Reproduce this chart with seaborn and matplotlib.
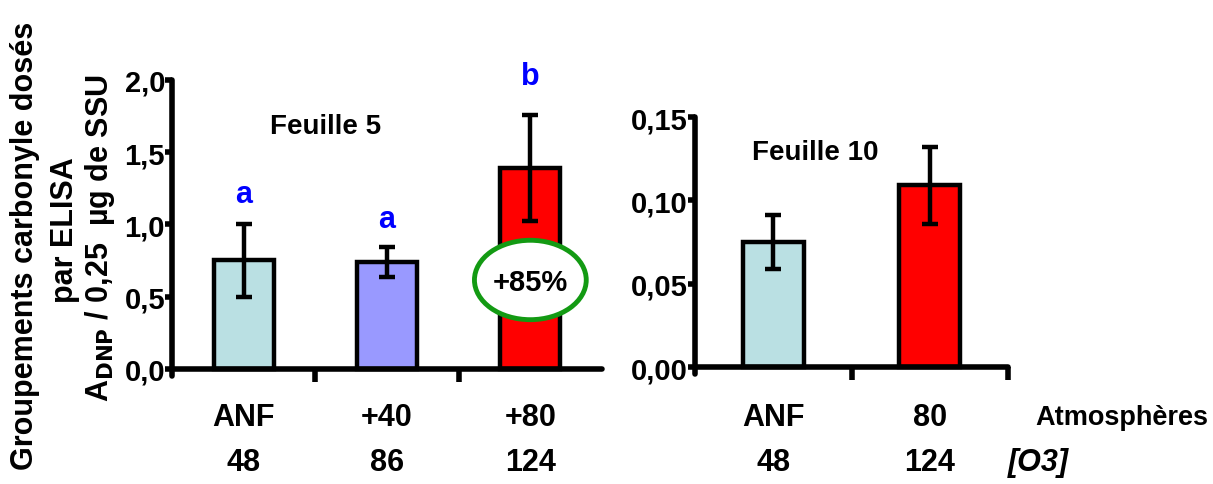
import matplotlib
matplotlib.use("Agg")
import matplotlib.pyplot as plt
from matplotlib.patches import Ellipse
import seaborn as sns
import pandas as pd

# ---- data ----
cats_f5 = ["ANF", "+40", "+80"]
o3_f5 = ["48", "86", "124"]
vals_f5 = [0.75, 0.74, 1.39]
errs_f5 = [0.25, 0.105, 0.37]
letters_f5 = ["a", "a", "b"]
colors_f5 = ["#BAE0E3", "#9999FF", "#FF0000"]
yticks_f5 = [0.0, 0.5, 1.0, 1.5, 2.0]
yticklabels_f5 = ["0,0", "0,5", "1,0", "1,5", "2,0"]

cats_f10 = ["ANF", "80"]
o3_f10 = ["48", "124"]
vals_f10 = [0.075, 0.109]
errs_f10 = [0.016, 0.023]
colors_f10 = ["#BAE0E3", "#FF0000"]
yticks_f10 = [0.0, 0.05, 0.10, 0.15]
yticklabels_f10 = ["0,00", "0,05", "0,10", "0,15"]

sns.set_theme(style="white")
plt.rcParams["font.family"] = ["Liberation Sans", "DejaVu Sans"]
plt.rcParams["font.weight"] = "bold"
plt.rcParams["text.color"] = "black"
plt.rcParams["xtick.color"] = "black"
plt.rcParams["ytick.color"] = "black"
plt.rcParams["axes.labelcolor"] = "black"

fig = plt.figure(figsize=(12.13, 4.85), dpi=100)
ax1 = fig.add_axes([0.1418, 0.2227, 0.3545, 0.6103])
ax2 = fig.add_axes([0.573, 0.2268, 0.258, 0.5299])

LW = 3.2
FS_TICK = 21
FS_LAB = 22


def panel(ax, cats, vals, errs, colors, yticks, yticklabels, ylim, width, minor_ticks):
    df = pd.DataFrame({"cat": cats, "val": vals})
    sns.barplot(data=df, x="cat", y="val", hue="cat", palette=colors, legend=False,
                edgecolor="black", linewidth=LW, width=width, ax=ax, errorbar=None,
                saturation=1)
    ax.errorbar(range(len(cats)), vals, yerr=errs, fmt="none", ecolor="black",
                elinewidth=LW, capsize=6, capthick=LW, zorder=5)
    ax.set_xlim(-0.5, len(cats) - 0.5)
    ax.set_ylim(*ylim)
    ax.spines["top"].set_visible(False)
    ax.spines["right"].set_visible(False)
    ax.spines["bottom"].set_position(("data", 0))
    for s in ("left", "bottom"):
        ax.spines[s].set_linewidth(4)
        ax.spines[s].set_color("black")
        ax.spines[s].set_capstyle("round")
    ax.set_yticks(yticks)
    ax.set_yticklabels(yticklabels, fontsize=FS_TICK, fontweight="bold")
    ax.tick_params(axis="y", direction="out", length=5, width=4, pad=0, left=True)
    ax.set_xticks([])
    ax.set_xticks(minor_ticks, minor=True)
    ax.tick_params(axis="x", which="minor", direction="out", length=9, width=4, bottom=True)
    ax.set_xlabel("")
    ax.set_ylabel("")


panel(ax1, cats_f5, vals_f5, errs_f5, colors_f5, yticks_f5, yticklabels_f5,
      (-0.05, 2.0), 0.42, [0.5, 1.5])
panel(ax2, cats_f10, vals_f10, errs_f10, colors_f10, yticks_f10, yticklabels_f10,
      (-0.004, 0.15), 0.39, [0.5, 1.5])
for t in ax2.xaxis.get_minorticklines():
    t.set_clip_on(False)


def cat_rows(ax, cats, o3):
    for i, (c, o) in enumerate(zip(cats, o3)):
        x_fig = fig.transFigure.inverted().transform(ax.transData.transform((i, 0)))[0]
        fig.text(x_fig, 1 - 418 / 485, c, ha="center", va="center", fontsize=FS_LAB, fontweight="bold")
        fig.text(x_fig, 1 - 463 / 485, o, ha="center", va="center", fontsize=FS_LAB, fontweight="bold")


cat_rows(ax1, cats_f5, o3_f5)
cat_rows(ax2, cats_f10, o3_f10)
fig.text(1208 / 1213, 1 - 418 / 485, "Atmosphères", ha="right", va="center", fontsize=19.5,
         fontweight="bold")
fig.text(1008 / 1213, 1 - 463 / 485, "[O3]", ha="left", va="center", fontsize=FS_LAB,
         fontweight="bold", style="italic")

# significance letters
letter_y = [1.21, 1.04, 2.03]
for i, (l, y) in enumerate(zip(letters_f5, letter_y)):
    ax1.text(i, y, l, ha="center", va="center", color="#0000FF", fontsize=22,
             fontweight="bold", clip_on=False)

ax1.text(0.57, 1.68, "Feuille 5", ha="center", va="center", fontsize=20, fontweight="bold")
ax2.text(0.27, 0.129, "Feuille 10", ha="center", va="center", fontsize=20, fontweight="bold")

# +85% ellipse
ell = Ellipse((2, 0.615), 0.78, 0.55, facecolor="white", edgecolor="#139A13", linewidth=3.5, zorder=6)
ax1.add_patch(ell)
ax1.text(2, 0.6, "+85%", ha="center", va="center", fontsize=21, fontweight="bold", zorder=7)

# y-axis label (three lines)
fig.text(25 / 1213, 1 - 246 / 485, "Groupements carbonyle dosés", rotation=90, ha="center",
         va="center", fontsize=22, fontweight="bold")
fig.text(65 / 1213, 1 - 230 / 485, "par ELISA", rotation=90, ha="center", va="center",
         fontsize=22, fontweight="bold")
fig.text(100 / 1213, 1 - 238 / 485, r"A$_{\mathbf{DNP}}$ / 0,25  µg de SSU", rotation=90,
         ha="center", va="center", fontsize=22, fontweight="bold")

fig.savefig("out.png", dpi=100, facecolor="white")
